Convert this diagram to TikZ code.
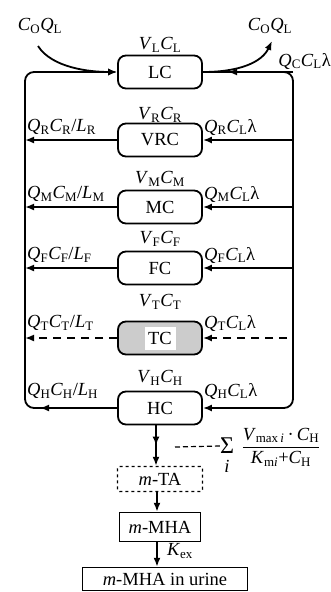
\documentclass[tikz,border=0pt]{standalone}
\usepackage{fontspec}
\setmainfont{Liberation Serif}
\usetikzlibrary{arrows.meta,decorations.markings}
\newcommand{\qv}[2]{\textit{#1}\textsubscript{#2}}
\begin{document}
\begin{tikzpicture}[x=1pt,y=-1pt,
  font=\fontsize{18.5}{20}\selectfont,
  comp/.style={draw, line width=1.8pt, rounded corners=8pt, minimum width=84pt, minimum height=33pt, inner sep=0pt},
  flow/.style={line width=1.8pt, -{Latex[length=9pt,width=7pt]}},
  rail/.style={line width=1.8pt, rounded corners=9pt},
  dflow/.style={flow, dash pattern=on 8pt off 6pt},
  lab/.style={inner sep=0pt},
  midarrow/.style={postaction={decorate}, decoration={markings, mark=at position 0.5 with {\arrow{Latex[length=9pt,width=7pt]}}}},
  pbox/.style={draw, line width=1.4pt, inner sep=0pt}
]
\useasboundingbox (0,0) rectangle (331,592);

% compartments
\node[comp] (LC) at (160,72) {LC};
\node[comp] (VRC) at (160,140) {VRC};
\node[comp] (MC) at (160,207) {MC};
\node[comp] (FC) at (160,268) {FC};
\node[comp, fill=gray!40] (TC) at (160,338) {};
\node[fill=white, minimum width=31pt, minimum height=23pt, inner sep=0pt] (TCt) at (TC) {TC};
\node[comp] (HC) at (160,408) {HC};

% rail corners
\coordinate (tl) at (25,72);
\coordinate (tr) at (293,72);
\coordinate (bl) at (25,408);
\coordinate (br) at (293,408);
\coordinate (blA) at (40,408);
\coordinate (trA) at (228,72);

% rails
\draw[rail, -{Latex[length=9pt,width=7pt]}] (HC.west) -- (bl) -- (tl) -- (LC.west);
\draw[flow] (HC.west) -- (blA);
\draw[rail, -{Latex[length=9pt,width=7pt]}] (LC.east) -- (tr) -- (br) -- (HC.east);
\draw[flow] (tr) -- (trA);

% branches
\foreach \b in {VRC,MC,FC}{
  \draw[flow] (\b.west) -- (\b.west -| tl);
  \draw[flow] (\b.east -| tr) -- (\b.east);
}
\coordinate (tcR) at (287,338);
\draw[dflow] (TC.west) -- (TC.west -| tl);
\draw[dflow] (tcR) -- (TC.east);

% inflow / outflow curves
\coordinate (inS) at (38,46);
\coordinate (outE) at (272,41);
\draw[flow] (inS) .. controls (52,68) and (90,72) .. (LC.west);
\draw[flow] (LC.east) .. controls (240,72) and (262,62) .. (outE);

% top labels
\node[lab] (cin) at (40,26) {\qv{C}{O}\qv{Q}{L}};
\node[lab] (cout) at (270,26) {\qv{C}{O}\qv{Q}{L}};
\node[lab, anchor=east] (qc) at (331,61) {\qv{Q}{C}\qv{C}{L}λ};

% volume labels
\node[lab] (vl) at (160,45) {\qv{V}{L}\qv{C}{L}};
\node[lab] (vr) at (160,115) {\qv{V}{R}\qv{C}{R}};
\node[lab] (vm) at (160,179) {\qv{V}{M}\qv{C}{M}};
\node[lab] (vf) at (160,239) {\qv{V}{F}\qv{C}{F}};
\node[lab] (vt) at (160,302) {\qv{V}{T}\qv{C}{T}};
\node[lab] (vh) at (160,378) {\qv{V}{H}\qv{C}{H}};

% left labels
\node[lab, anchor=west] (lr) at (27,127) {\qv{Q}{R}\qv{C}{R}/\qv{L}{R}};
\node[lab, anchor=west] (lm) at (27,194) {\qv{Q}{M}\qv{C}{M}/\qv{L}{M}};
\node[lab, anchor=west] (lf) at (27,255) {\qv{Q}{F}\qv{C}{F}/\qv{L}{F}};
\node[lab, anchor=west] (lt) at (27,323) {\qv{Q}{T}\qv{C}{T}/\qv{L}{T}};
\node[lab, anchor=west] (lh) at (27,391) {\qv{Q}{H}\qv{C}{H}/\qv{L}{H}};

% right labels
\node[lab, anchor=west] (rr) at (204,127) {\qv{Q}{R}\qv{C}{L}λ};
\node[lab, anchor=west] (rm) at (204,194) {\qv{Q}{M}\qv{C}{L}λ};
\node[lab, anchor=west] (rf) at (204,255) {\qv{Q}{F}\qv{C}{L}λ};
\node[lab, anchor=west] (rt) at (204,323) {\qv{Q}{T}\qv{C}{L}λ};
\node[lab, anchor=west] (rh) at (204,391) {\qv{Q}{H}\qv{C}{L}λ};

% metabolism
\node[pbox, dashed, rounded corners=2pt, minimum width=85pt, minimum height=25pt] (mTA) at (160,479) {\textit{m}-TA};
\node[pbox, minimum width=81pt, minimum height=29pt] (mMHA) at (160,527) {\textit{m}-MHA};
\node[pbox, minimum width=165pt, minimum height=23pt] (urine) at (165,579) {\textit{m}-MHA in urine};

\draw[flow, midarrow] ([xshift=-4pt]HC.south) -- ([xshift=-4pt]mTA.north);
\draw[flow] ([xshift=-3pt]mTA.south) -- ([xshift=-3pt]mMHA.north);
\draw[flow] ([xshift=-3pt]mMHA.south) -- ([xshift=-3pt]mMHA.south |- urine.north);
\node[lab] (kex) at (180,551) {\qv{K}{ex}};

% Michaelis-Menten term
\node[lab] (sig) at (227,446) {\fontsize{24}{24}\selectfont Σ};
\node[lab] (si) at (227,466) {\textit{i}};
\node[lab] (frac) at (281,447) {$\displaystyle\frac{\mbox{\qv{V}{max\,\textit{i}}\,·\,\qv{C}{H}}}{\mbox{\qv{K}{m\textit{i}}+\qv{C}{H}}}$};
\coordinate (dS) at (175,447);
\draw[line width=1.2pt, dash pattern=on 5pt off 3pt] (dS) -- (sig.west);
\end{tikzpicture}
\end{document}
